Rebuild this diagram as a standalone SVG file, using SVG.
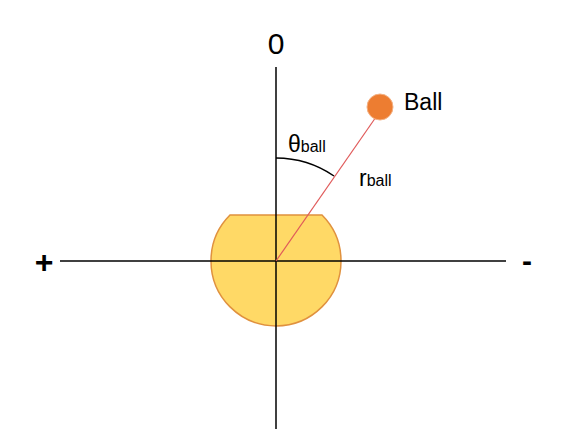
<svg xmlns="http://www.w3.org/2000/svg" width="566" height="429" viewBox="0 0 566 429">
<style>
.ax{stroke:#000;stroke-width:1.5;fill:none}
.t{font-family:"Liberation Sans",Arial,sans-serif;fill:#000}
</style>
<rect width="566" height="429" fill="#fff"/>
<g id="robot">
<path d="M230,215 L322,215 A65,65 0 1 1 230,215 Z" fill="#FFD966" stroke="#E0913E" stroke-width="1.5"/>
</g>
<g id="connectors">
<line class="ax" x1="60" y1="261" x2="506" y2="261"/>
<line class="ax" x1="276" y1="67" x2="276" y2="429"/>
<line x1="276" y1="261" x2="376" y2="117" stroke="#E05A5A" stroke-width="1.2"/>
<path d="M276,158 A103,103 0 0 1 334,176" fill="none" stroke="#000" stroke-width="1.5"/>
</g>
<g id="ball">
<circle cx="380" cy="107" r="13" fill="#ED7D31" stroke="#F4B183" stroke-width="1"/>
<text class="t" x="404" y="110" font-size="23">Ball</text>
</g>
<g id="labels">
<text class="t" x="276" y="54" font-size="30" text-anchor="middle">0</text>
<text class="t" x="44" y="273" font-size="32" font-weight="bold" text-anchor="middle">+</text>
<text class="t" x="527" y="271" font-size="30" font-weight="bold" text-anchor="middle">-</text>
<text class="t" x="288" y="152" font-size="23">θ<tspan font-size="16">ball</tspan></text>
<text class="t" x="359" y="186" font-size="23">r<tspan font-size="16">ball</tspan></text>
</g>
</svg>
